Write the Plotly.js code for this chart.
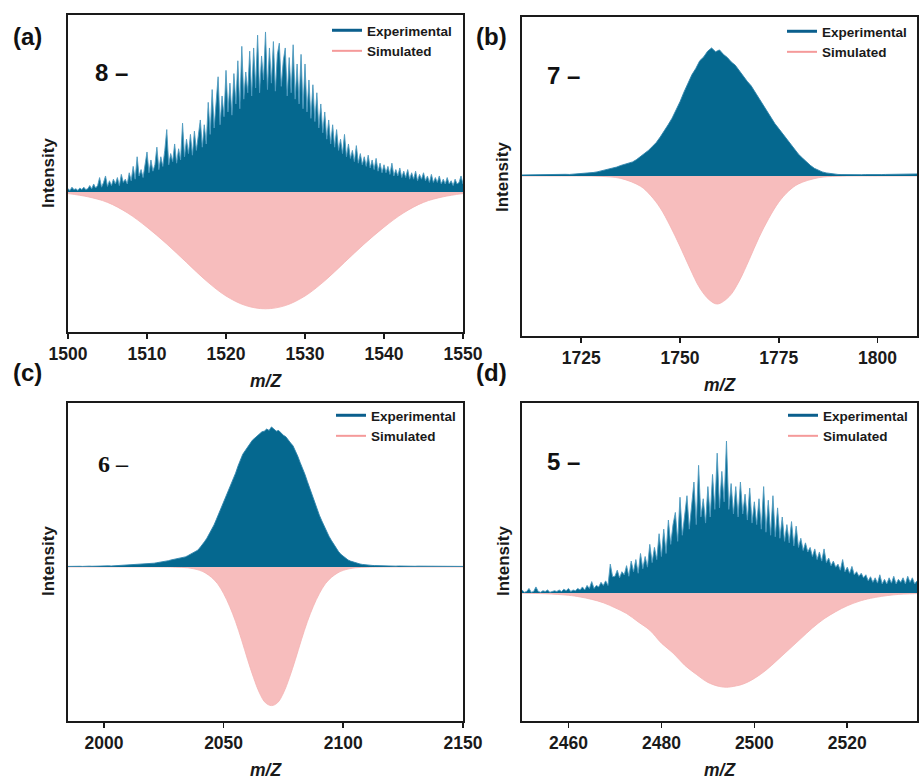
<!DOCTYPE html>
<html>
<head>
<meta charset="utf-8">
<script src="https://cdn.plot.ly/plotly-3.0.1.min.js"></script>
<style>html,body{margin:0;padding:0;background:#fff}#chart{width:922px;height:779px}</style>
</head>
<body>
<div id="chart"></div>
<script>
// ---------- Panel (a): 8- ----------
var expA_x0 = 1500, expA_dx = 0.25;
var expA = [
0.02,0.01,0.03,0.015,0.02,0.01,0.025,0.015,
0.03,0.015,0.02,0.04,0.02,0.05,0.025,0.04,
0.09,0.03,0.06,0.1,0.035,0.07,0.04,0.08,
0.05,0.09,0.04,0.11,0.06,0.08,0.05,0.12,
0.07,0.16,0.08,0.22,0.1,0.14,0.09,0.18,
0.25,0.12,0.2,0.13,0.17,0.28,0.14,0.22,
0.16,0.26,0.39,0.17,0.24,0.19,0.3,0.18,
0.27,0.2,0.43,0.22,0.33,0.24,0.36,0.23,
0.38,0.26,0.34,0.45,0.28,0.42,0.3,0.56,
0.36,0.64,0.4,0.58,0.72,0.42,0.6,0.47,
0.76,0.5,0.68,0.48,0.74,0.55,0.82,0.52,
0.91,0.58,0.75,0.62,0.88,0.6,0.9,0.65,
0.98,0.62,0.85,0.7,1.0,0.64,0.9,0.68,
0.94,0.63,0.86,0.93,0.66,0.82,0.9,0.6,
0.84,0.62,0.92,0.58,0.8,0.55,0.86,0.52,
0.8,0.5,0.7,0.46,0.67,0.44,0.62,0.4,
0.55,0.37,0.5,0.33,0.45,0.3,0.42,0.28,
0.39,0.26,0.33,0.24,0.36,0.22,0.3,0.21,
0.26,0.19,0.29,0.18,0.24,0.17,0.22,0.16,
0.23,0.15,0.2,0.14,0.21,0.13,0.18,0.12,
0.17,0.12,0.16,0.11,0.18,0.1,0.14,0.1,
0.15,0.09,0.13,0.09,0.14,0.08,0.12,0.08,
0.13,0.07,0.11,0.08,0.12,0.07,0.1,0.06,
0.11,0.06,0.09,0.06,0.1,0.05,0.08,0.05,
0.09,0.05,0.07,0.04,0.08,0.05,0.06,0.1,
0.05];
var simA_x = [1500,1502.5,1505,1507.5,1510,1512.5,1515,1517.5,1520,1522.5,1525,1527.5,1530,1532.5,1535,1537.5,1540,1542.5,1545,1547.5,1550];
var simA_y = [-0.01,-0.03,-0.065,-0.13,-0.22,-0.325,-0.44,-0.555,-0.65,-0.71,-0.73,-0.71,-0.65,-0.555,-0.44,-0.325,-0.22,-0.13,-0.065,-0.03,-0.01];

// ---------- Panel (b): 7- ----------
var expB_x0 = 1710, expB_dx = 1;
var expB = [
0.008,0.009,0.008,0.010,0.009,0.010,0.011,0.010,0.012,0.011,
0.012,0.013,0.012,0.014,0.015,0.016,0.018,0.022,0.027,0.032,
0.040,0.046,0.052,0.060,0.070,0.082,0.090,0.100,0.110,0.128,
0.150,0.172,0.200,0.230,0.262,0.305,0.350,0.400,0.452,0.515,
0.580,0.655,0.720,0.790,0.840,0.900,0.930,0.975,1.000,0.970,
0.985,0.950,0.925,0.890,0.865,0.820,0.785,0.740,0.705,0.655,
0.610,0.560,0.510,0.460,0.410,0.370,0.330,0.290,0.250,0.210,
0.170,0.140,0.110,0.083,0.060,0.044,0.032,0.024,0.019,0.015,
0.012,0.011,0.010,0.011,0.010,0.009,0.010,0.011,0.010,0.011,
0.012,0.011,0.012,0.013,0.012,0.013,0.014,0.013,0.015,0.014,0.016];
var simB_x = [1710,1720,1725,1730,1735,1740,1742.5,1745,1747.5,1750,1752.5,1755,1757.5,1759.5,1762.5,1765,1767.5,1770,1772.5,1775,1777.5,1780,1785,1790,1800,1810];
var simB_y = [0,0,-0.0004,-0.003,-0.019,-0.08,-0.15,-0.25,-0.39,-0.55,-0.72,-0.875,-0.97,-1.0,-0.94,-0.82,-0.655,-0.48,-0.33,-0.205,-0.118,-0.062,-0.014,-0.002,0,0];

// ---------- Panel (c): 6- ----------
var expC_x0 = 1985, expC_dx = 1;
var expC = [
0.004,0.005,0.004,0.006,0.005,0.005,0.004,0.006,0.005,0.006,
0.005,0.006,0.007,0.006,0.007,0.006,0.007,0.008,0.007,0.008,
0.008,0.008,0.009,0.010,0.011,0.012,0.012,0.013,0.014,0.015,
0.016,0.017,0.019,0.020,0.022,0.024,0.027,0.030,0.032,0.035,
0.038,0.042,0.045,0.050,0.053,0.056,0.060,0.064,0.068,0.072,
0.080,0.090,0.100,0.108,0.118,0.135,0.155,0.180,0.205,0.235,
0.265,0.300,0.340,0.380,0.425,0.470,0.510,0.550,0.590,0.630,
0.670,0.720,0.770,0.805,0.830,0.860,0.880,0.905,0.920,0.935,
0.950,0.965,0.970,0.985,0.975,1.000,0.985,0.970,0.975,0.955,
0.940,0.930,0.905,0.885,0.865,0.830,0.790,0.745,0.705,0.660,
0.610,0.560,0.515,0.465,0.415,0.370,0.330,0.290,0.255,0.220,
0.190,0.160,0.135,0.110,0.090,0.075,0.062,0.050,0.042,0.036,
0.030,0.025,0.021,0.018,0.015,0.013,0.012,0.011,0.010,0.009,
0.009,0.008,0.008,0.007,0.008,0.007,0.007,0.006,0.007,0.006,
0.007,0.006,0.006,0.007,0.006,0.005,0.006,0.006,0.005,0.006,
0.006,0.005,0.006,0.005,0.005,0.006,0.005,0.006,0.005,0.005,
0.006,0.005,0.005,0.006,0.005,0.004];
var simC_x = [1985,2025,2030,2035,2040,2042.5,2045,2047.5,2050,2052.5,2055,2057.5,2060,2062.5,2065,2067.5,2070,2072.5,2075,2077.5,2080,2082.5,2085,2087.5,2090,2092.5,2095,2097.5,2100,2105,2110,2115,2150];
var simC_y = [0,-0.0002,-0.0015,-0.006,-0.024,-0.044,-0.075,-0.12,-0.19,-0.28,-0.39,-0.52,-0.66,-0.79,-0.9,-0.97,-0.99,-0.97,-0.9,-0.79,-0.66,-0.52,-0.39,-0.28,-0.19,-0.12,-0.075,-0.044,-0.024,-0.006,-0.0015,-0.0002,0];

// ---------- Panel (d): 5- ----------
var expD_x0 = 2450, expD_dx = 0.5;
var expD = [
0.02,0.005,0.01,0.03,0.005,0.01,0.04,0.01,
0.005,0.015,0.01,0.02,0.005,0.01,0.015,0.01,
0.02,0.01,0.025,0.015,0.03,0.01,0.02,0.015,
0.03,0.02,0.04,0.02,0.05,0.03,0.075,0.03,
0.05,0.04,0.07,0.05,0.08,0.05,0.19,0.107,
0.11,0.15,0.1,0.14,0.12,0.18,0.11,0.21,
0.14,0.22,0.13,0.26,0.16,0.24,0.17,0.32,
0.2,0.3,0.22,0.39,0.24,0.42,0.26,0.48,
0.32,0.45,0.53,0.34,0.63,0.38,0.5,0.64,
0.42,0.58,0.73,0.45,0.84,0.5,0.62,0.46,
0.7,0.5,0.78,0.55,0.92,0.56,0.8,0.6,
1.0,0.55,0.72,0.52,0.7,0.5,0.73,0.52,
0.65,0.48,0.69,0.46,0.6,0.45,0.62,0.42,
0.7,0.4,0.61,0.38,0.64,0.37,0.56,0.36,
0.5,0.34,0.45,0.33,0.47,0.31,0.44,0.3,
0.36,0.28,0.33,0.27,0.3,0.24,0.29,0.22,
0.27,0.21,0.29,0.2,0.23,0.18,0.21,0.17,
0.19,0.15,0.22,0.14,0.17,0.13,0.175,0.12,
0.14,0.11,0.13,0.1,0.12,0.08,0.107,0.07,
0.1,0.065,0.12,0.06,0.09,0.06,0.1,0.065,
0.11,0.06,0.09,0.07,0.1,0.06,0.11,0.07,
0.1,0.06,0.08];
var simD_x = [2450,2455,2460,2462.5,2465,2467.5,2470,2472.5,2475,2477.5,2480,2482.5,2485,2487.5,2490,2492.5,2494,2495,2497.5,2500,2502.5,2505,2507.5,2510,2512.5,2515,2517.5,2520,2522.5,2525,2530,2535];
var simD_y = [-0.001,-0.005,-0.015,-0.026,-0.042,-0.064,-0.097,-0.135,-0.19,-0.245,-0.33,-0.395,-0.475,-0.535,-0.588,-0.615,-0.62,-0.617,-0.6,-0.562,-0.508,-0.44,-0.37,-0.3,-0.23,-0.17,-0.123,-0.084,-0.055,-0.035,-0.012,-0.004];

// ---------- labels ----------
var panelLabels = ['(a)','(b)','(c)','(d)'];
var chargeLabels = ['8 \u2013','7 \u2013','6 \u2013','5 \u2013'];
var seriesNames = ['Experimental','Simulated'];
var xTitle = '<i>m/Z</i>';
var yTitle = 'Intensity';

// ---------- styling ----------
var W = 922, H = 779;
var BLUE_FILL = '#05688f', BLUE_LINE_SPIKY = '#4f9bc0', BLUE_LINE_SMOOTH = '#2f83ab';
var PINK_FILL = '#f7bdbd', PINK_LINE = '#f4b3b3';
var LEG_BLUE = '#0b5f8d', LEG_PINK = '#f59a9a';
var FONT = 'Liberation Sans, Arial, sans-serif';

// panel pixel boxes [left, top, right, bottom]
var boxes = [[68,15,463,332],[522,17,917,336],[68,403,463,721],[522,403,917,721]];
var xranges = [[1500,1550],[1710,1810],[1985,2150],[2450,2535]];
var yranges = [[-0.875,1.106],[-1.25,1.242],[-1.1,1.171],[-0.842,1.25]];
var dticks = [10,25,50,20];
var tick0s = [1500,1700,2000,2440];
var spiky = [true,false,false,true];

var exps = [[expA,expA_x0,expA_dx],[expB,expB_x0,expB_dx],[expC,expC_x0,expC_dx],[expD,expD_x0,expD_dx]];
var sims = [[simA_x,simA_y],[simB_x,simB_y],[simC_x,simC_y],[simD_x,simD_y]];

var data = [];
var layout = {width:W, height:H, margin:{l:0,r:0,t:0,b:0}, paper_bgcolor:'#fff', plot_bgcolor:'#fff', annotations:[]};
var legNames = ['legend','legend2','legend3','legend4'];
var legPos = [[327,15],[782,16],[331,400],[783,400]];

for (var i=0;i<4;i++){
  var xa = 'x'+(i===0?'':i+1), ya = 'y'+(i===0?'':i+1);
  var b = boxes[i];
  data.push({type:'scatter', x:sims[i][0], y:sims[i][1], mode:'lines', line:{color:PINK_LINE,width:0.8,shape:'spline'}, fill:'tozeroy', fillcolor:PINK_FILL, showlegend:false, xaxis:xa, yaxis:ya, hoverinfo:'skip'});
  data.push({type:'scatter', x0:exps[i][1], dx:exps[i][2], y:exps[i][0], mode:'lines',
    line:{color:(spiky[i]?BLUE_LINE_SPIKY:BLUE_LINE_SMOOTH), width:0.9},
    fill:'tozeroy', fillcolor:BLUE_FILL, showlegend:false, xaxis:xa, yaxis:ya, hoverinfo:'skip'});
  data.push({type:'scatter', x:[null], y:[null], mode:'lines', name:seriesNames[0], line:{color:LEG_BLUE,width:3}, xaxis:xa, yaxis:ya, legend:legNames[i]});
  data.push({type:'scatter', x:[null], y:[null], mode:'lines', name:seriesNames[1], line:{color:LEG_PINK,width:2}, xaxis:xa, yaxis:ya, legend:legNames[i]});

  var xk = 'xaxis'+(i===0?'':i+1), yk = 'yaxis'+(i===0?'':i+1);
  layout[xk] = {domain:[b[0]/W, b[2]/W], range:xranges[i], anchor:ya, showline:true, mirror:true, linecolor:'#1a1a1a', linewidth:1.8,
    ticks:'outside', ticklen:5, tickwidth:1.6, tickcolor:'#1a1a1a', dtick:dticks[i], tick0:tick0s[i], showgrid:false, zeroline:false,
    tickfont:{family:FONT, size:17.5, color:'#1a1a1a', weight:'bold'}, fixedrange:true};
  layout[yk] = {domain:[1-b[3]/H, 1-b[1]/H], range:yranges[i], anchor:xa, showline:true, mirror:true, linecolor:'#1a1a1a', linewidth:1.8,
    ticks:'', showticklabels:false, showgrid:false, zeroline:false, fixedrange:true};
  layout[legNames[i]] = {x:legPos[i][0]/W, y:1-legPos[i][1]/H, xanchor:'left', yanchor:'top', bgcolor:'rgba(0,0,0,0)',
    font:{family:FONT, size:13.5, color:'#1a1a1a', weight:'bold'}, tracegroupgap:0, itemwidth:30};

  var cx = (b[0]+b[2])/2;
  layout.annotations.push({xref:'paper', yref:'paper', x:cx/W, y:1-(b[3]+49)/H, text:xTitle, showarrow:false,
    font:{family:FONT, size:17.5, color:'#1a1a1a', weight:'bold'}, xanchor:'center', yanchor:'middle'});
}
var yTitlePos = [[48,173],[502,177],[48,561],[503,561]];
var panelPos = [[27,37],[491,37],[27,372],[491,372]];
var chargePos = [[93,73],[545,75],[96,464],[545,461]];
for (var j=0;j<4;j++){
  layout.annotations.push({xref:'paper', yref:'paper', x:yTitlePos[j][0]/W, y:1-yTitlePos[j][1]/H, text:yTitle, textangle:-90, showarrow:false,
    font:{family:FONT, size:17, color:'#1a1a1a', weight:'bold'}, xanchor:'center', yanchor:'middle'});
  layout.annotations.push({xref:'paper', yref:'paper', x:panelPos[j][0]/W, y:1-panelPos[j][1]/H, text:panelLabels[j], showarrow:false,
    font:{family:FONT, size:24, color:'#111', weight:'bold'}, xanchor:'center', yanchor:'middle'});
  layout.annotations.push({xref:'paper', yref:'paper', x:chargePos[j][0]/W, y:1-chargePos[j][1]/H, text:chargeLabels[j], showarrow:false,
    font:{family:(j===2?'Liberation Serif, Times New Roman, serif':FONT), size:24, color:'#111', weight:'bold'}, xanchor:'left', yanchor:'middle'});
}

Plotly.newPlot('chart', data, layout, {staticPlot:true, displayModeBar:false});
</script>
</body>
</html>
